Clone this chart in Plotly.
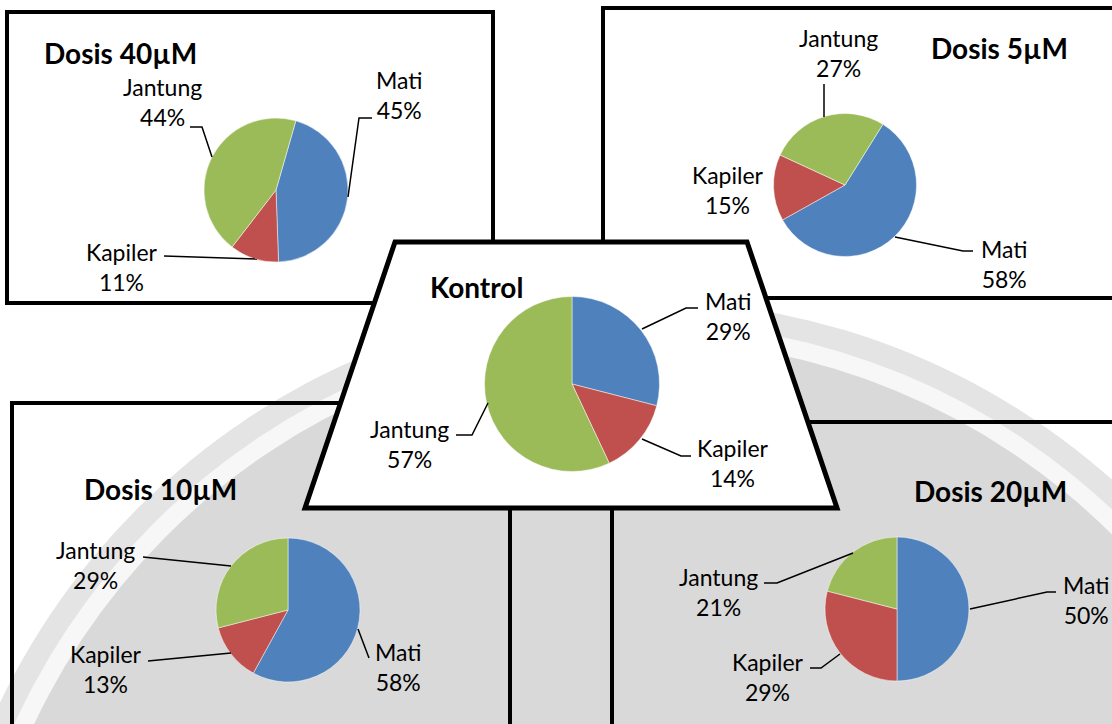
import plotly.graph_objects as go

W, H = 1112, 724

# ---------------- data ----------------
categories = ["Mati", "Kapiler", "Jantung"]
titles = ["Dosis 40\u00b5M", "Dosis 5\u00b5M", "Kontrol", "Dosis 10\u00b5M", "Dosis 20\u00b5M"]
values_40 = [45, 11, 44]
values_5 = [58, 15, 27]
values_kontrol = [29, 14, 57]
values_10 = [58, 13, 29]
values_20 = [50, 29, 21]
all_values = [values_40, values_5, values_kontrol, values_10, values_20]

colors = ["#4f81bd", "#c0504d", "#9bbb59"]

# ---------------- layout (pixel positions) ----------------
pie_layout = [
    dict(cx=276, cy=190, r=72, rot=16),
    dict(cx=845, cy=185, r=71.5, rot=32),
    dict(cx=572, cy=384, r=87.5, rot=0),
    dict(cx=288, cy=610, r=72, rot=0),
    dict(cx=897, cy=609, r=72, rot=0),
]
title_pos = [(120, 53), (999, 48), (476, 287), (160, 489), (990, 491)]
# label centres, order = categories (Mati, Kapiler, Jantung)
label_pos = [
    [(399, 95), (122, 267), (162, 102)],
    [(1004, 264), (728, 190), (838, 53)],
    [(728, 316), (733, 463), (409, 444)],
    [(398, 667), (106, 669), (95, 565)],
    [(1086, 600), (768, 677), (718, 592)],
]
leaders = [
    [[(348, 197), (359, 118), (372, 118)], [(164, 256), (257, 259)], [(190, 127), (202, 127), (212, 157)]],
    [[(895, 237), (963, 251), (973, 251)], None, [(824, 84), (824, 117)]],
    [[(642, 329), (686, 308), (698, 308)], [(642, 439), (681, 456), (691, 456)], [(488, 403), (472, 435), (456, 435)]],
    [[(358, 629), (369, 658)], [(148, 661), (231, 653)], [(143, 557), (231, 566)]],
    [[(970, 609), (1047, 592), (1056, 592)], [(810, 668), (821, 668), (840, 654)], [(764, 583), (777, 583), (853, 553)]],
]


def px(x):
    return x / W


def py(y):
    return 1 - y / H


def path(pts, close=False):
    s = "M " + " L ".join(f"{px(x):.5f},{py(y):.5f}" for x, y in pts)
    return s + (" Z" if close else "")


fig = go.Figure()

for vals, pl in zip(all_values, pie_layout):
    cx, cy, r = pl["cx"], pl["cy"], pl["r"]
    fig.add_trace(go.Pie(
        labels=categories, values=vals, sort=False, direction="clockwise",
        rotation=pl["rot"], textinfo="none", hoverinfo="label+percent",
        marker=dict(colors=colors, line=dict(color="rgba(255,255,255,0.6)", width=0.8)),
        domain=dict(x=[px(cx - r), px(cx + r)], y=[py(cy + r), py(cy - r)]),
        showlegend=False,
    ))

shapes = []
# big background logo disc
gx, gy = 640, 1010
for rr, col in [(710, "#e4e4e4"), (688, "#f7f7f7"), (670, "#d9d9d9")]:
    shapes.append(dict(type="circle", xref="paper", yref="paper",
                       x0=px(gx - rr), x1=px(gx + rr), y0=py(gy + rr), y1=py(gy - rr),
                       fillcolor=col, line=dict(width=0), layer="below"))

frame = dict(color="black", width=4)
# 10 uM frame
shapes.append(dict(type="rect", xref="paper", yref="paper", x0=px(12), x1=px(510), y0=py(728), y1=py(403),
                   line=frame, fillcolor="rgba(0,0,0,0)", layer="below"))
# 20 uM frame
shapes.append(dict(type="rect", xref="paper", yref="paper", x0=px(612), x1=px(1130), y0=py(728), y1=py(422),
                   line=frame, fillcolor="rgba(0,0,0,0)", layer="below"))
# 40 uM frame
shapes.append(dict(type="rect", xref="paper", yref="paper", x0=px(7), x1=px(493), y0=py(303), y1=py(12),
                   line=frame, fillcolor="white", layer="below"))
# 5 uM frame
shapes.append(dict(type="rect", xref="paper", yref="paper", x0=px(603), x1=px(1130), y0=py(298), y1=py(8),
                   line=frame, fillcolor="white", layer="below"))
# Kontrol trapezoid
shapes.append(dict(type="path", xref="paper", yref="paper",
                   path=path([(395, 242), (747, 242), (837, 508), (305, 508)], close=True),
                   line=dict(color="black", width=5), fillcolor="white", layer="below"))

# leader lines
for panel in leaders:
    for pts in panel:
        if pts:
            shapes.append(dict(type="path", xref="paper", yref="paper", path=path(pts),
                               line=dict(color="black", width=1.5), layer="above"))

annotations = []
for t, (x, y) in zip(titles, title_pos):
    annotations.append(dict(text=f"<b>{t}</b>", x=px(x), y=py(y), xref="paper", yref="paper",
                            showarrow=False, xanchor="center", yanchor="middle",
                            font=dict(family="Lato", size=28, color="black")))

for vals, pos in zip(all_values, label_pos):
    total = sum(vals)
    for cat, v, (x, y) in zip(categories, vals, pos):
        pct = round(100 * v / total)
        annotations.append(dict(text=f"{cat}<br>{pct}%", x=px(x), y=py(y), xref="paper", yref="paper",
                                showarrow=False, xanchor="center", yanchor="middle", align="center",
                                font=dict(family="Lato", size=23, color="black")))

fig.update_layout(
    width=W, height=H, margin=dict(l=0, r=0, t=0, b=0),
    paper_bgcolor="white", plot_bgcolor="white",
    shapes=shapes, annotations=annotations, showlegend=False,
)

fig.write_html("out.html", config={"displayModeBar": False},
               post_script="document.body.style.margin='0';document.body.style.overflow='hidden';")
